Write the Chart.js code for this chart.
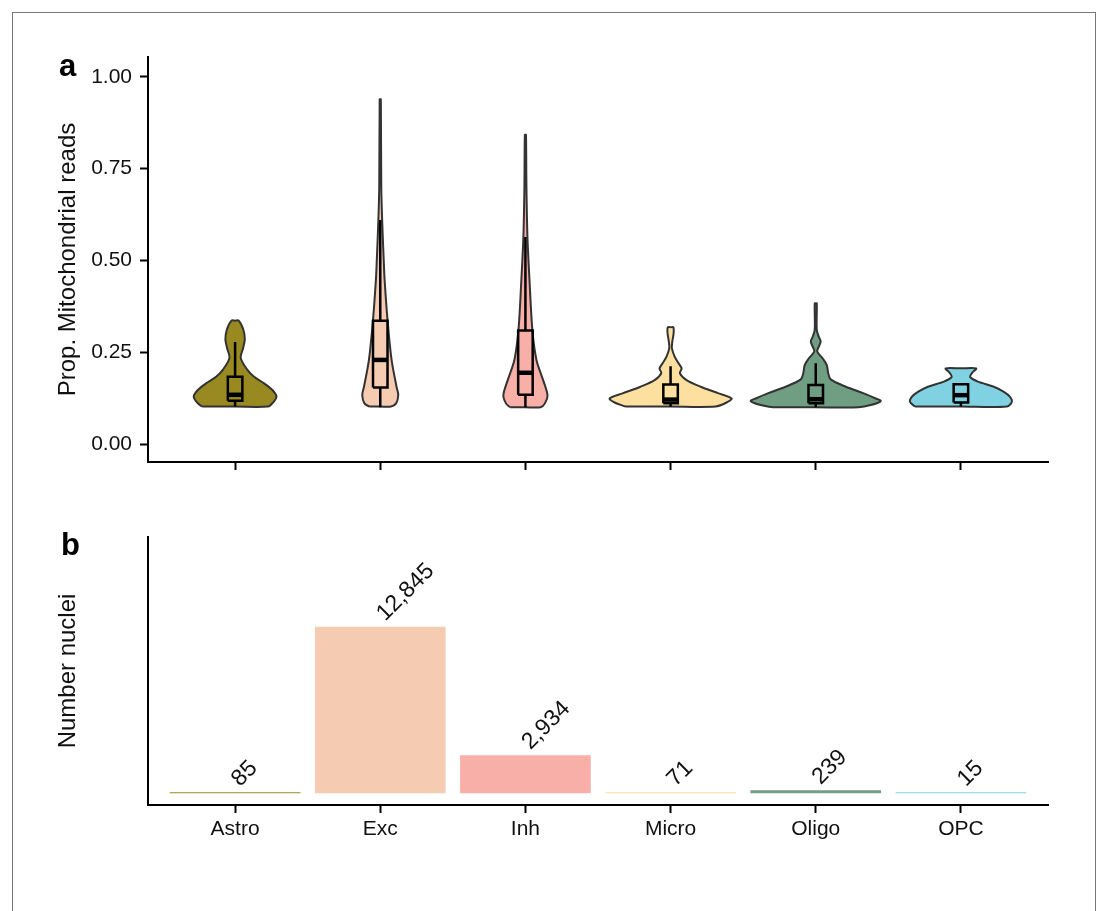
<!DOCTYPE html>
<html>
<head>
<meta charset="utf-8">
<script src="https://cdn.jsdelivr.net/npm/chart.js@4.4.1/dist/chart.umd.min.js"></script>
<style>
  body { margin: 0; background: #fff; width: 1100px; height: 911px; overflow: hidden; position: relative; }
  #frame { position: absolute; left: 12px; top: 12px; width: 1082px; height: 920px; border: 1.5px solid #777; }
  canvas { position: absolute; left: 0; }
  .tag { position: absolute; font: bold 31px/1 "Liberation Sans", Arial, sans-serif; color: #000; }
</style>
</head>
<body>
<div id="frame"></div>
<canvas id="violin" width="1100" height="480" style="top:0"></canvas>
<canvas id="bars" width="1100" height="431" style="top:480px"></canvas>
<div class="tag" style="left:59px; top:50px">a</div>
<div class="tag" style="left:61px; top:529px">b</div>
<script>
const categories = ['Astro', 'Exc', 'Inh', 'Micro', 'Oligo', 'OPC'];
const nucleiCounts = [85, 12845, 2934, 71, 239, 15];
const yTicks = [0, 0.25, 0.5, 0.75, 1.0];

// violin outlines: [prop. mito reads, half width of density]
const astroViolin = [[0.102, 0.227], [0.111, 0.257], [0.129, 0.285], [0.147, 0.257], [0.165, 0.2], [0.183, 0.131],
  [0.202, 0.085], [0.234, 0.039], [0.261, 0.055], [0.285, 0.067], [0.311, 0.057], [0.336, 0.025]];
const excViolin = [[0.102, 0.074], [0.11, 0.108], [0.133, 0.124], [0.156, 0.112], [0.229, 0.078], [0.338, 0.05],
  [0.447, 0.03], [0.5, 0.024], [0.61, 0.013], [0.7, 0.007], [0.939, 0.004]];
const inhViolin = [[0.1, 0.105], [0.11, 0.133], [0.133, 0.152], [0.174, 0.122], [0.229, 0.076], [0.31, 0.048],
  [0.447, 0.028], [0.564, 0.014], [0.7, 0.007], [0.842, 0.004]];
const microViolin = [[0.102, 0.31], [0.113, 0.386], [0.124, 0.42], [0.138, 0.331], [0.156, 0.207], [0.174, 0.11],
  [0.193, 0.064], [0.206, 0.076], [0.22, 0.055], [0.238, 0.028], [0.261, 0.009], [0.279, 0.012], [0.302, 0.021], [0.318, 0.019]];
const oligoViolin = [[0.1, 0.296], [0.106, 0.379], [0.117, 0.448], [0.124, 0.413], [0.138, 0.331], [0.156, 0.207],
  [0.176, 0.103], [0.193, 0.086], [0.215, 0.076], [0.233, 0.048], [0.252, 0.01], [0.265, 0.021], [0.279, 0.034],
  [0.292, 0.021], [0.311, 0.007], [0.383, 0.007]];
const opcViolin = [[0.102, 0.317], [0.115, 0.351], [0.129, 0.337], [0.142, 0.296], [0.156, 0.227], [0.17, 0.117],
  [0.182, 0.064], [0.193, 0.076], [0.206, 0.105]];
const violins = [astroViolin, excViolin, inhViolin, microViolin, oligoViolin, opcViolin];

// box plot stats
const boxLower = [0.102, 0.1, 0.1, 0.102, 0.1, 0.102];
const boxQ1 = [0.118, 0.154, 0.134, 0.111, 0.111, 0.113];
const boxMedian = [0.134, 0.229, 0.194, 0.121, 0.122, 0.133];
const boxQ3 = [0.183, 0.336, 0.309, 0.162, 0.161, 0.163];
const boxUpper = [0.278, 0.61, 0.564, 0.212, 0.22, 0.165];

const fillColors = ['#988a21', '#f5cbb2', '#f8afa8', '#fddf9f', '#6f9e82', '#80d2e3'];
const FONT = '"Liberation Sans", Arial, Helvetica, sans-serif';
Chart.defaults.font.family = FONT;
Chart.defaults.color = '#111';

const boxHalf = 0.05;
const datasets = [];
violins.forEach((prof, i) => {
  const c = i + 1;
  const left = prof.map(([y, w]) => ({x: c - w, y: y}));
  const right = prof.slice().reverse().map(([y, w]) => ({x: c + w, y: y}));
  const top = prof[prof.length - 1][0], bot = prof[0][0];
  const pts = left.concat([{x: c, y: top}], right, [{x: c, y: bot}, left[0]]);
  datasets.push({data: pts, showLine: true, fill: 'shape', backgroundColor: fillColors[i],
    borderColor: '#333', borderWidth: 2, tension: 0.3, pointRadius: 0, order: 3});
  datasets.push({data: [{x: c, y: boxLower[i]}, {x: c, y: boxQ1[i]}, {x: c, y: null}, {x: c, y: boxQ3[i]}, {x: c, y: boxUpper[i]}],
    showLine: true, spanGaps: false, borderColor: '#000', borderWidth: 2.5, pointRadius: 0, fill: false, order: 2});
  datasets.push({data: [{x: c - boxHalf, y: boxQ1[i]}, {x: c + boxHalf, y: boxQ1[i]}, {x: c + boxHalf, y: boxQ3[i]},
    {x: c - boxHalf, y: boxQ3[i]}, {x: c - boxHalf, y: boxQ1[i]}],
    showLine: true, borderColor: '#000', borderWidth: 2.5, pointRadius: 0, fill: false, order: 1});
  datasets.push({data: [{x: c - boxHalf, y: boxMedian[i]}, {x: c + boxHalf, y: boxMedian[i]}],
    showLine: true, borderColor: '#000', borderWidth: 4.5, pointRadius: 0, fill: false, order: 0});
});

const axisGrid = {drawOnChartArea: false, offset: false, color: '#000', tickLength: 8, tickWidth: 2};
const axisBorder = {color: '#000', width: 2};
const catTicks = s => { s.ticks = categories.map((c, i) => ({value: i + 1})); };
const fitY = s => { s.width = 148; s.paddingTop = 0; s.paddingBottom = 0; };

new Chart(document.getElementById('violin'), {
  type: 'scatter',
  data: {datasets: datasets},
  options: {
    responsive: false, animation: false,
    layout: {padding: {top: 57, right: 52, left: 0, bottom: 0}},
    plugins: {legend: {display: false}, tooltip: {enabled: false}},
    scales: {
      x: {type: 'linear', min: 0.4, max: 6.6, offset: false, afterBuildTicks: catTicks,
        ticks: {callback: () => ''}, grid: axisGrid, border: axisBorder,
        afterFit: s => { s.height = 18; }},
      y: {type: 'linear', min: -0.049, max: 1.054,
        afterBuildTicks: s => { s.ticks = yTicks.map(v => ({value: v})); },
        ticks: {callback: v => v.toFixed(2), font: {size: 21}, color: '#111', padding: 8},
        grid: axisGrid, border: axisBorder,
        title: {display: true, text: 'Prop. Mitochondrial reads', font: {size: 24}, color: '#111', padding: {top: 54}},
        afterFit: fitY}
    }
  }
});

const barLabels = {
  id: 'barLabels',
  afterDatasetsDraw(chart) {
    const ctx = chart.ctx;
    chart.getDatasetMeta(0).data.forEach((bar, i) => {
      ctx.save();
      ctx.translate(bar.x + 5, bar.y - 5);
      ctx.rotate(-Math.PI / 4);
      ctx.font = '23px ' + FONT;
      ctx.fillStyle = '#111';
      ctx.textAlign = 'left';
      ctx.textBaseline = 'alphabetic';
      ctx.fillText(nucleiCounts[i].toLocaleString('en-US'), 0, 0);
      ctx.restore();
    });
  }
};

new Chart(document.getElementById('bars'), {
  type: 'bar',
  data: {datasets: [{
    data: nucleiCounts.map((v, i) => ({x: i + 1, y: v})),
    backgroundColor: fillColors, borderWidth: 0,
    barPercentage: 0.9, categoryPercentage: 1, minBarLength: 1
  }]},
  plugins: [barLabels],
  options: {
    responsive: false, animation: false,
    layout: {padding: {top: 57, right: 52, left: 0, bottom: 0}},
    plugins: {legend: {display: false}, tooltip: {enabled: false}},
    scales: {
      x: {type: 'linear', min: 0.4, max: 6.6, offset: false, afterBuildTicks: catTicks,
        ticks: {callback: v => categories[v - 1], font: {size: 21}, color: '#111', padding: 4, maxRotation: 0},
        grid: axisGrid, border: axisBorder,
        afterFit: s => { s.height = 106; }},
      y: {type: 'linear', min: -900, max: 19770,
        ticks: {display: false},
        grid: {drawOnChartArea: false, drawTicks: false, color: '#000'}, border: axisBorder,
        title: {display: true, text: 'Number nuclei', font: {size: 24}, color: '#111', padding: {top: 54}},
        afterFit: fitY}
    }
  }
});
</script>
</body>
</html>
